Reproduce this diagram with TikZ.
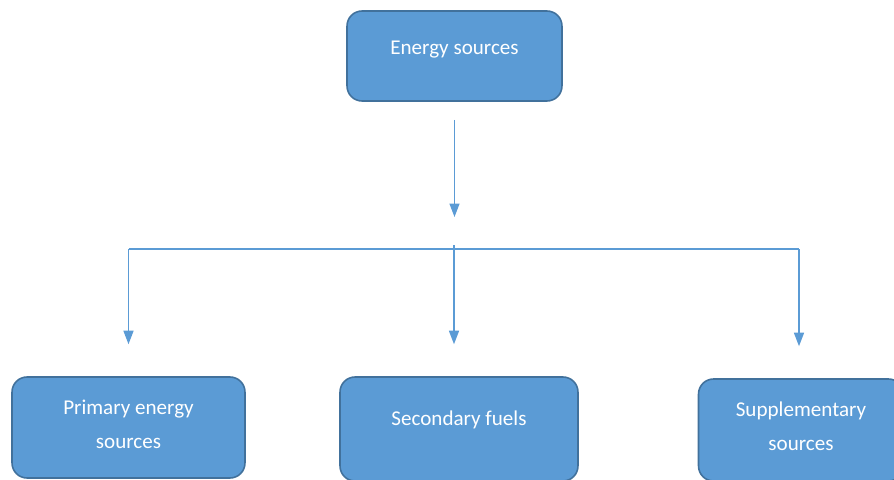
\documentclass[tikz,border=0pt]{standalone}
\usepackage{fontspec}
\setmainfont{Carlito}
\usetikzlibrary{arrows.meta}
\definecolor{boxfill}{HTML}{5B9BD5}
\definecolor{boxline}{HTML}{41719C}
\definecolor{linkblue}{HTML}{5B9BD5}
\tikzset{
	srcbox/.style={draw=boxline, line width=0.9pt, fill=boxfill, rounded corners=0.3cm,
		text=white, font=\fontsize{12}{19}\selectfont, align=center, inner sep=0pt},
	link/.style={draw=linkblue, line width=0.8pt},
	arr/.style={link, -{Triangle[width=0.2cm,length=0.27cm]}}
}
\begin{document}
\begin{tikzpicture}[x=0.02cm, y=-0.02cm]
	%%%%% START %%%%%
	\useasboundingbox (0, 0) rectangle (894, 480);
	
	\node[srcbox, minimum width=4.3cm, minimum height=1.8cm, text depth=0.33cm] (src) at (454.5, 56) {Energy sources};
	
	\node[srcbox, minimum width=4.66cm, minimum height=2.02cm, text depth=0.13cm] (prim) at (128.5, 427.5) {Primary energy\\sources};
	\node[srcbox, minimum width=4.76cm, minimum height=2.08cm, text depth=0.45cm] (sec) at (459, 429) {Secondary fuels};
	\node[srcbox, minimum width=4.1cm, minimum height=2.04cm, text depth=0.15cm] (supp) at (801, 430) {Supplementary\\sources};
	
	\coordinate (busl) at (128.5, 249);
	\coordinate (busm) at (454, 249);
	\coordinate (busr) at (799, 249);
	
	\draw[arr, shorten <=0.36cm, shorten >=0.64cm] (src.south) -- (src.south |- busm);
	\draw[link] (busl) -- (busr);
	
	\draw[arr, shorten >=0.64cm] (busl) -- (prim.north);
	\draw[arr, shorten >=0.64cm] ([yshift=0.08cm]busm) -- (busm |- sec.north);
	\draw[arr, shorten >=0.64cm] (busr) -- (busr |- supp.north);
	%%%%% END %%%%%
\end{tikzpicture}
\end{document}
